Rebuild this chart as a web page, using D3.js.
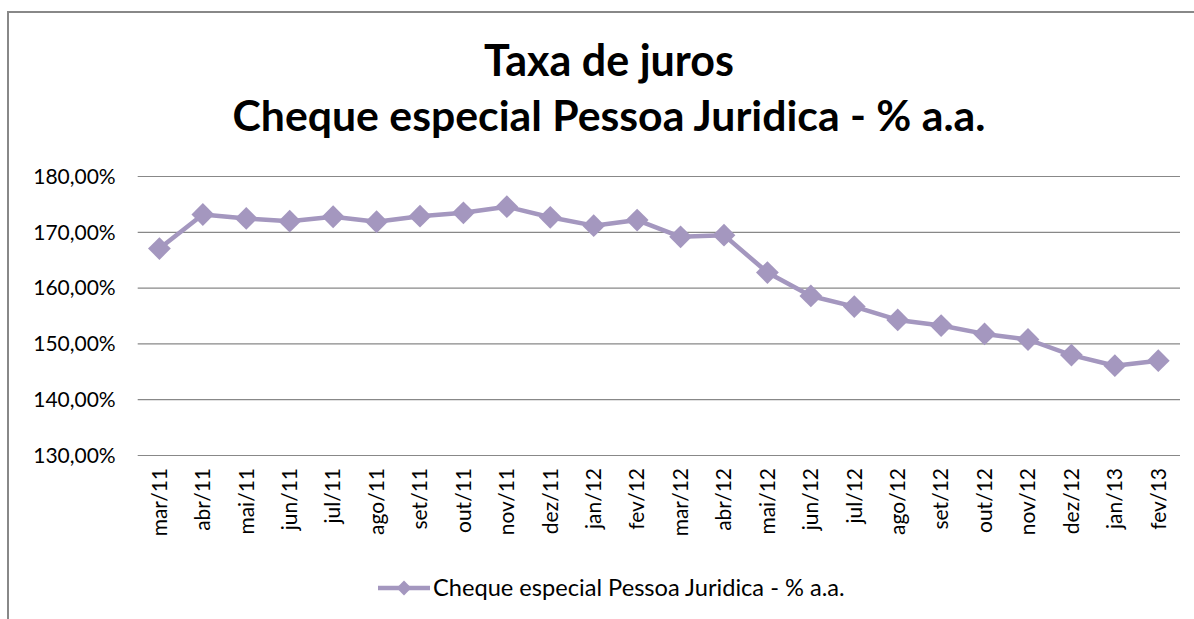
<!DOCTYPE html>
<html><head><meta charset="utf-8">
<script src="https://cdn.jsdelivr.net/npm/d3@7"></script>
<style>body{margin:0;background:#fff}svg{display:block}</style>
</head><body>
<script>
const months = ["mar/11","abr/11","mai/11","jun/11","jul/11","ago/11","set/11","out/11","nov/11","dez/11","jan/12","fev/12","mar/12","abr/12","mai/12","jun/12","jul/12","ago/12","set/12","out/12","nov/12","dez/12","jan/13","fev/13"];
const rates = [167.0,173.1,172.4,171.9,172.7,171.8,172.8,173.4,174.5,172.6,171.1,172.1,169.1,169.4,162.7,158.5,156.6,154.2,153.2,151.7,150.7,147.9,146.0,146.9];
const yTicks = [130,140,150,160,170,180];
const titleLines = ["Taxa de juros","Cheque especial Pessoa Juridica - % a.a."];
const seriesName = "Cheque especial Pessoa Juridica - % a.a.";

const W=1194,H=619, color="#A497BF";
const font = "Lato, 'Open Sans', sans-serif";
const svg = d3.select("body").append("svg").attr("width",W).attr("height",H);
svg.append("rect").attr("x",8).attr("y",12).attr("width",W+10).attr("height",H+10)
  .attr("fill","#fff").attr("stroke","#888").attr("stroke-width",2);

function fit(sel,target){const w=sel.node().getComputedTextLength();const fs=parseFloat(sel.attr("font-size"));sel.attr("font-size",fs*target/w);}

const t1=svg.append("text").attr("x",609).attr("y",76).attr("text-anchor","middle").attr("font-family",font).attr("font-weight","bold").attr("font-size",34).attr("fill","#000").text(titleLines[0]);
fit(t1,250);
const t2=svg.append("text").attr("x",609).attr("y",131).attr("text-anchor","middle").attr("font-family",font).attr("font-weight","bold").attr("font-size",34).attr("fill","#000").text(titleLines[1]);
fit(t2,753);

const x = d3.scaleBand().domain(months).range([137.7,1180]);
const y = d3.scaleLinear().domain([130,180]).range([455,176]);

const gy = svg.append("g").attr("transform","translate(137.7,0)")
  .call(d3.axisLeft(y).tickValues(yTicks).tickSize(-(1180-137.7)).tickFormat(d=>d3.format(".2f")(d).replace(".",",")+"%"));
gy.select(".domain").remove();
gy.selectAll(".tick line").attr("stroke","#888").attr("stroke-width",1.2);
gy.selectAll(".tick text").attr("font-family",font).attr("font-size",21).attr("fill","#000").attr("x",-22).attr("dy","0.35em");

const gx = svg.append("g").attr("transform","translate(0,455)")
  .call(d3.axisBottom(x).tickSize(0));
gx.select(".domain").remove();
gx.selectAll(".tick text").attr("font-family",font).attr("font-size",21).attr("fill","#000")
  .attr("transform","rotate(-90)").attr("text-anchor","end").attr("x",-13).attr("y",0).attr("dy","0.35em");

const cx = d=>x(d)+x.bandwidth()/2;
const line = d3.line().x((d,i)=>cx(months[i])).y(d=>y(d));
svg.append("path").datum(rates).attr("d",line).attr("fill","none").attr("stroke",color).attr("stroke-width",4.5).attr("stroke-linejoin","round");
svg.selectAll(".pt").data(rates).join("path").attr("class","pt")
  .attr("transform",(d,i)=>`translate(${cx(months[i])},${y(d)}) rotate(45)`)
  .attr("d",d3.symbol().type(d3.symbolSquare).size(260)).attr("fill",color);

// legend
const ly=588;
svg.append("line").attr("x1",378).attr("x2",430).attr("y1",ly).attr("y2",ly).attr("stroke",color).attr("stroke-width",4.5);
svg.append("path").attr("transform",`translate(404,${ly}) rotate(45)`).attr("d",d3.symbol().type(d3.symbolSquare).size(110)).attr("fill",color);
const lt=svg.append("text").attr("x",433).attr("y",ly).attr("dy","0.35em").attr("font-family",font).attr("font-size",18).attr("fill","#000").text(seriesName);
fit(lt,412);
</script>
</body></html>
